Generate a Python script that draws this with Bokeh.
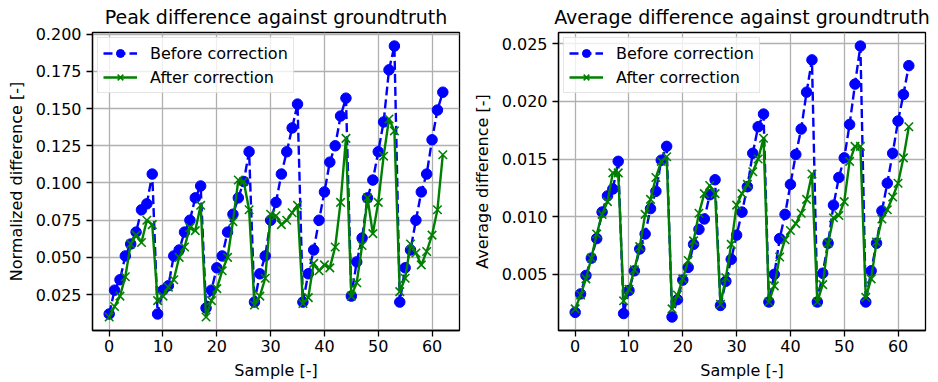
from bokeh.plotting import figure
from bokeh.layouts import row
from bokeh.models import Range1d, FixedTicker, PrintfTickFormatter
from bokeh.embed import file_html
from bokeh.resources import INLINE

samples = list(range(63))

peak_before = [0.012, 0.028, 0.035, 0.051, 0.059, 0.067, 0.082, 0.086, 0.106,
               0.012, 0.028, 0.031, 0.051, 0.055, 0.067, 0.075, 0.090, 0.098,
               0.016, 0.028, 0.043, 0.051, 0.067, 0.079, 0.090, 0.101, 0.121,
               0.020, 0.039, 0.051, 0.075, 0.087, 0.106, 0.121, 0.137, 0.153,
               0.020, 0.039, 0.055, 0.075, 0.094, 0.114, 0.125, 0.145, 0.157,
               0.024, 0.047, 0.063, 0.090, 0.102, 0.121, 0.141, 0.176, 0.192,
               0.020, 0.043, 0.055, 0.075, 0.094, 0.106, 0.129, 0.149, 0.161]

peak_after = [0.010, 0.017, 0.024, 0.037, 0.059, 0.065, 0.060, 0.075, 0.072,
              0.021, 0.024, 0.030, 0.035, 0.050, 0.057, 0.070, 0.068, 0.085,
              0.010, 0.021, 0.029, 0.041, 0.050, 0.074, 0.102, 0.101, 0.082,
              0.018, 0.024, 0.036, 0.079, 0.078, 0.072, 0.075, 0.080, 0.085,
              0.019, 0.023, 0.046, 0.041, 0.045, 0.043, 0.057, 0.087, 0.130,
              0.024, 0.033, 0.058, 0.090, 0.066, 0.087, 0.118, 0.143, 0.135,
              0.027, 0.036, 0.059, 0.053, 0.045, 0.054, 0.065, 0.082, 0.119]

avg_before = [0.0017, 0.0033, 0.0049, 0.0064, 0.0081, 0.0104, 0.0118, 0.0124, 0.0148,
              0.0016, 0.0036, 0.0053, 0.0072, 0.0085, 0.0107, 0.0122, 0.0149, 0.0161,
              0.0013, 0.0028, 0.0045, 0.0056, 0.0076, 0.0089, 0.0098, 0.0119, 0.0132,
              0.0023, 0.0044, 0.0063, 0.0084, 0.0104, 0.0126, 0.0155, 0.0178, 0.0189,
              0.0026, 0.0050, 0.0081, 0.0102, 0.0128, 0.0154, 0.0176, 0.0208, 0.0236,
              0.0026, 0.0051, 0.0077, 0.0110, 0.0134, 0.0151, 0.0180, 0.0215, 0.0248,
              0.0026, 0.0053, 0.0077, 0.0105, 0.0129, 0.0155, 0.0183, 0.0206, 0.0231]

avg_after = [0.0020, 0.0032, 0.0046, 0.0064, 0.0085, 0.0102, 0.0113, 0.0138, 0.0138,
             0.0027, 0.0037, 0.0054, 0.0074, 0.0102, 0.0115, 0.0134, 0.0148, 0.0152,
             0.0020, 0.0032, 0.0046, 0.0062, 0.0079, 0.0103, 0.0120, 0.0127, 0.0120,
             0.0024, 0.0047, 0.0076, 0.0110, 0.0120, 0.0128, 0.0139, 0.0150, 0.0168,
             0.0026, 0.0040, 0.0065, 0.0080, 0.0088, 0.0094, 0.0103, 0.0115, 0.0137,
             0.0026, 0.0041, 0.0077, 0.0099, 0.0101, 0.0113, 0.0148, 0.0161, 0.0161,
             0.0030, 0.0046, 0.0078, 0.0098, 0.0106, 0.0117, 0.0129, 0.0151, 0.0178]

x_ticks = [0, 10, 20, 30, 40, 50, 60]
peak_ticks = [0.025, 0.050, 0.075, 0.100, 0.125, 0.150, 0.175, 0.200]
avg_ticks = [0.005, 0.010, 0.015, 0.020, 0.025]

FONT = "DejaVu Sans"
BLUE = "#0000ff"
GREEN = "#008000"


def make_panel(title, ylabel, before, after, yticks, yrange, left_border, right_border):
    p = figure(frame_width=367, frame_height=298,
               output_backend="svg", toolbar_location=None,
               x_range=Range1d(-3.1, 65.1), y_range=Range1d(*yrange),
               min_border_left=left_border, min_border_right=right_border,
               min_border_top=32, min_border_bottom=52)
    p.title.text = title
    p.title.align = "center"
    p.title.vertical_align = "top"
    p.title.text_font = FONT
    p.title.text_font_size = "19px"
    p.title.text_font_style = "normal"
    p.title.text_color = "black"
    p.title.standoff = 6

    p.line(samples, before, line_color=BLUE, line_width=2.4, line_dash="9 4",
           legend_label="Before correction")
    p.scatter(samples, before, marker="circle", size=10.5, fill_color=BLUE,
              line_color=BLUE, legend_label="Before correction")
    p.line(samples, after, line_color=GREEN, line_width=2.4,
           legend_label="After correction")
    p.scatter(samples, after, marker="x", size=12, line_color=GREEN,
              line_width=1.6, legend_label="After correction")

    p.xaxis.ticker = FixedTicker(ticks=x_ticks)
    p.yaxis.ticker = FixedTicker(ticks=yticks)
    p.yaxis.formatter = PrintfTickFormatter(format="%.3f")
    p.xaxis.axis_label = "Sample [-]"
    p.yaxis.axis_label = ylabel
    for ax in (p.xaxis, p.yaxis):
        ax.axis_label_text_font = FONT
        ax.axis_label_text_font_size = "16px"
        ax.axis_label_text_font_style = "normal"
        ax.axis_label_text_color = "black"
        ax.major_label_text_font = FONT
        ax.major_label_text_font_size = "16px"
        ax.major_label_text_color = "black"
        ax.axis_line_color = "black"
        ax.axis_line_width = 1.3
        ax.major_tick_line_color = "black"
        ax.major_tick_line_width = 1.3
        ax.major_tick_out = 6
        ax.major_tick_in = 0
        ax.minor_tick_line_color = None
    p.xaxis.major_label_standoff = 3
    p.xaxis.axis_label_standoff = 6
    p.yaxis.major_label_standoff = 5
    p.yaxis.axis_label_standoff = 7

    p.outline_line_color = "black"
    p.outline_line_width = 1.3
    p.outline_line_alpha = 1.0
    p.xgrid.ticker = FixedTicker(ticks=x_ticks)
    p.ygrid.ticker = FixedTicker(ticks=yticks)
    p.grid.grid_line_color = "#b0b0b0"
    p.grid.grid_line_width = 1.3

    lg = p.legend[0]
    lg.location = "top_left"
    lg.margin = 5
    lg.padding = 5
    lg.spacing = 4
    lg.label_text_font = FONT
    lg.label_text_font_size = "16px"
    lg.label_text_color = "black"
    lg.glyph_width = 34
    lg.glyph_height = 20
    lg.label_height = 20
    lg.label_standoff = 13
    lg.border_line_color = "#cccccc"
    lg.border_line_width = 1.3
    lg.background_fill_alpha = 0.8
    p.background_fill_color = "white"
    p.border_fill_color = "white"
    return p


p1 = make_panel("Peak difference against groundtruth", "Normalized difference [-]",
                peak_before, peak_after, peak_ticks, (0.0009, 0.2011), 92, 10)
p2 = make_panel("Average difference against groundtruth", "Average difference [-]",
                avg_before, avg_after, avg_ticks, (0.000125, 0.025975), 89, 13)

layout = row(p1, p2)
open("out.html", "w").write(file_html(layout, INLINE))
